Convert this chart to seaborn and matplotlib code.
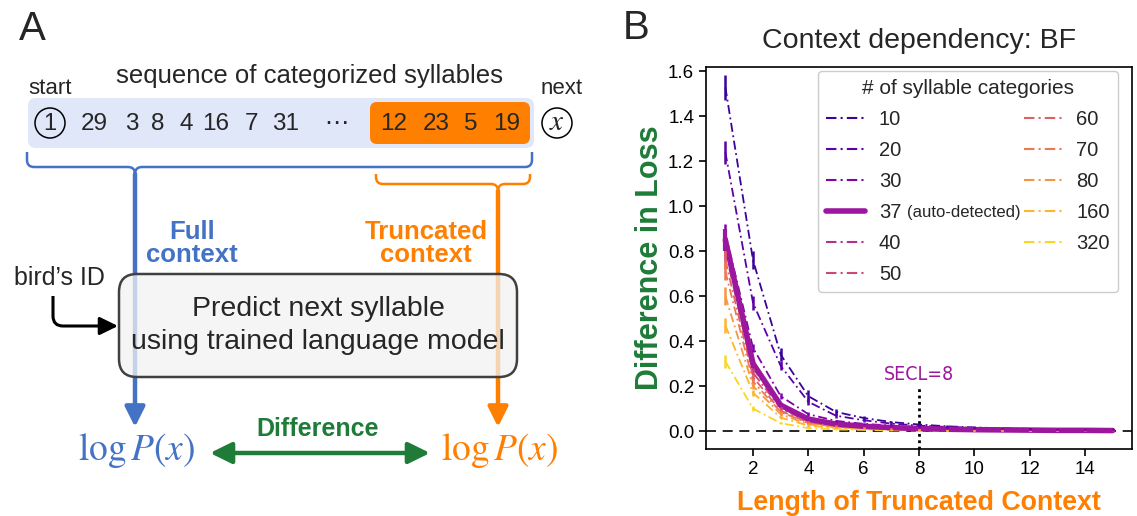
import matplotlib
matplotlib.use("Agg")
import pandas as pd
import matplotlib.pyplot as plt
import seaborn as sns
from matplotlib.patches import FancyBboxPatch, Circle, PathPatch, FancyArrowPatch
from matplotlib.path import Path
from matplotlib.lines import Line2D

sns.set_style("ticks")
plt.rcParams["font.family"] = ["Liberation Sans", "DejaVu Sans"]
plt.rcParams["mathtext.fontset"] = "stix"

# ---- panel B data: difference in loss vs length of truncated context ----
lengths = list(range(1, 16))
n_categories = ["10", "20", "30", "37", "40", "50", "60", "70", "80", "160", "320"]

loss_10 = [1.53, 0.76, 0.34, 0.155, 0.085, 0.058, 0.040, 0.029, 0.021, 0.016, 0.012, 0.010, 0.008, 0.006, 0.005]
loss_20 = [1.24, 0.57, 0.29, 0.130, 0.068, 0.048, 0.033, 0.024, 0.018, 0.014, 0.011, 0.009, 0.007, 0.006, 0.005]
loss_30 = [0.88, 0.37, 0.155, 0.075, 0.045, 0.032, 0.024, 0.018, 0.014, 0.011, 0.009, 0.007, 0.006, 0.005, 0.004]
loss_37 = [0.85, 0.30, 0.115, 0.053, 0.031, 0.021, 0.015, 0.011, 0.008, 0.006, 0.005, 0.004, 0.003, 0.003, 0.002]
loss_40 = [0.83, 0.28, 0.105, 0.045, 0.026, 0.018, 0.013, 0.009, 0.007, 0.005, 0.004, 0.003, 0.003, 0.002, 0.002]
loss_50 = [0.80, 0.26, 0.100, 0.042, 0.024, 0.016, 0.012, 0.008, 0.006, 0.005, 0.004, 0.003, 0.002, 0.002, 0.002]
loss_60 = [0.76, 0.24, 0.090, 0.038, 0.021, 0.014, 0.010, 0.007, 0.005, 0.004, 0.003, 0.003, 0.002, 0.002, 0.001]
loss_70 = [0.71, 0.22, 0.085, 0.035, 0.019, 0.013, 0.009, 0.006, 0.005, 0.004, 0.003, 0.002, 0.002, 0.001, 0.001]
loss_80 = [0.60, 0.20, 0.075, 0.030, 0.017, 0.011, 0.008, 0.006, 0.004, 0.003, 0.003, 0.002, 0.002, 0.001, 0.001]
loss_160 = [0.47, 0.17, 0.060, 0.024, 0.013, 0.009, 0.006, 0.004, 0.003, 0.003, 0.002, 0.002, 0.001, 0.001, 0.001]
loss_320 = [0.31, 0.10, 0.035, 0.013, 0.007, 0.005, 0.003, 0.002, 0.002, 0.001, 0.001, 0.001, 0.001, 0.000, 0.000]

err_10 = [0.055, 0.040, 0.030, 0.028, 0.012, 0.008, 0.006, 0.005, 0.004, 0.004, 0.003, 0.003, 0.003, 0.003, 0.003]
err_20 = [0.050, 0.030, 0.020, 0.015, 0.010, 0.007, 0.005, 0.004, 0.004, 0.003, 0.003, 0.003, 0.002, 0.002, 0.002]
err_30 = [0.040, 0.018, 0.012, 0.008, 0.006, 0.005, 0.004, 0.003, 0.003, 0.003, 0.002, 0.002, 0.002, 0.002, 0.002]
err_37 = [0.050, 0.018, 0.010, 0.007, 0.005, 0.004, 0.003, 0.003, 0.002, 0.002, 0.002, 0.002, 0.002, 0.002, 0.002]
err_40 = [0.040, 0.015, 0.008, 0.006, 0.004, 0.003, 0.003, 0.002, 0.002, 0.002, 0.002, 0.002, 0.001, 0.001, 0.001]
err_50 = [0.040, 0.015, 0.008, 0.006, 0.004, 0.003, 0.003, 0.002, 0.002, 0.002, 0.002, 0.002, 0.001, 0.001, 0.001]
err_60 = [0.040, 0.015, 0.008, 0.005, 0.004, 0.003, 0.002, 0.002, 0.002, 0.002, 0.001, 0.001, 0.001, 0.001, 0.001]
err_70 = [0.040, 0.015, 0.008, 0.005, 0.004, 0.003, 0.002, 0.002, 0.002, 0.002, 0.001, 0.001, 0.001, 0.001, 0.001]
err_80 = [0.040, 0.015, 0.008, 0.005, 0.003, 0.003, 0.002, 0.002, 0.002, 0.001, 0.001, 0.001, 0.001, 0.001, 0.001]
err_160 = [0.035, 0.012, 0.006, 0.004, 0.003, 0.002, 0.002, 0.002, 0.001, 0.001, 0.001, 0.001, 0.001, 0.001, 0.001]
err_320 = [0.030, 0.010, 0.005, 0.003, 0.002, 0.002, 0.001, 0.001, 0.001, 0.001, 0.001, 0.001, 0.001, 0.001, 0.001]

means = [loss_10, loss_20, loss_30, loss_37, loss_40, loss_50, loss_60, loss_70, loss_80, loss_160, loss_320]
errs = [err_10, err_20, err_30, err_37, err_40, err_50, err_60, err_70, err_80, err_160, err_320]
auto_detected = "37"
secl = 8

# long table for seaborn
rows = []
for n, m, e in zip(n_categories, means, errs):
    for x, y, s in zip(lengths, m, e):
        rows.append({"length": x, "loss": y, "err": s, "n": n})
df = pd.DataFrame(rows)

colors = sns.color_palette("plasma", len(n_categories))
palette = dict(zip(n_categories, colors))
dash_dc = (5, 2, 1, 2)
dashes = {n: ("" if n == auto_detected else dash_dc) for n in n_categories}
sizes = {n: (4.0 if n == auto_detected else 1.3) for n in n_categories}
draw_order = [n for n in n_categories if n != auto_detected] + [auto_detected]

W, H = 1137, 516
fig = plt.figure(figsize=(W / 100, H / 100), dpi=100)

# ================= panel A (schematic, pixel coordinates) =================
ax_a = fig.add_axes([0, 0, 600 / W, 1])
ax_a.set_xlim(0, 600)
ax_a.set_ylim(H, 0)
ax_a.axis("off")

blue = "#4472c4"
orange = "#ff7f00"
green = "#1e7b38"

ax_a.add_patch(FancyBboxPatch((28, 98), 506, 50, boxstyle="round,pad=0,rounding_size=8",
                              fc="#e0e7f8", ec="none", zorder=1))
ax_a.add_patch(FancyBboxPatch((370, 102), 160, 42, boxstyle="round,pad=0,rounding_size=7",
                              fc=orange, ec="none", zorder=2))
ax_a.add_patch(Circle((50, 123), 15, fc="none", ec="black", lw=1.1, zorder=3))
ax_a.text(50, 124, "1", fontsize=17, ha="center", va="center", zorder=4)
ax_a.add_patch(Circle((557, 123), 15, fc="none", ec="black", lw=1.1, zorder=3))
ax_a.text(557, 122, r"$x$", fontsize=21, ha="center", va="center", zorder=4)

seq_tokens = ["29", "3", "8", "4", "16", "7", "31", "\u22ef", "12", "23", "5", "19"]
seq_x = [94, 132, 158, 186, 216, 252, 286, 336, 394, 436, 471, 507]
for tok, x in zip(seq_tokens, seq_x):
    ax_a.text(x, 124, tok, fontsize=17.5, ha="center", va="center", zorder=4)

ax_a.text(50, 88, "start", fontsize=16, ha="center", va="center")
ax_a.text(562, 88, "next", fontsize=16, ha="center", va="center")
ax_a.text(309, 76, "sequence of categorized syllables", fontsize=18.5, ha="center", va="center")


def brace(x0, x1, xt, y0, ym, r, color):
    C = Path.CURVE3
    verts = [(x0, y0), (x0, ym - r), (x0, ym), (x0 + r, ym), (xt - r, ym), (xt, ym), (xt, ym + r),
             (x1, y0), (x1, ym - r), (x1, ym), (x1 - r, ym), (xt + r, ym), (xt, ym), (xt, ym + r)]
    codes = [Path.MOVETO, Path.LINETO, C, C, Path.LINETO, C, C,
             Path.MOVETO, Path.LINETO, C, C, Path.LINETO, C, C]
    ax_a.add_patch(PathPatch(Path(verts, codes), fc="none", ec=color, lw=1.8, zorder=2))


brace(27, 532, 135, 152, 167, 7, blue)
brace(376, 530, 498, 174, 184, 7, orange)

arrow_kw = dict(arrowstyle="-|>,head_length=0.6,head_width=0.3", mutation_scale=20,
                shrinkA=0, shrinkB=0, zorder=2)
ax_a.add_patch(FancyArrowPatch((135, 174), (135, 427), lw=3.2, color=blue, **arrow_kw))
ax_a.add_patch(FancyArrowPatch((498, 191), (498, 427), lw=3.2, color=orange, **arrow_kw))

ax_a.text(192, 232, "Full", fontsize=18.5, fontweight="bold", color=blue, ha="center", va="center")
ax_a.text(192, 255, "context", fontsize=18.5, fontweight="bold", color=blue, ha="center", va="center")
ax_a.text(426, 232, "Truncated", fontsize=18.5, fontweight="bold", color=orange, ha="center", va="center")
ax_a.text(426, 255, "context", fontsize=18.5, fontweight="bold", color=orange, ha="center", va="center")

ax_a.add_patch(FancyBboxPatch((119, 274), 398, 103, boxstyle="round,pad=0,rounding_size=18",
                              fc=(0.95, 0.95, 0.95, 0.75), ec="#404040", lw=1.8, zorder=3))
ax_a.text(318, 309, "Predict next syllable", fontsize=20.5, ha="center", va="center", zorder=4)
ax_a.text(318, 342, "using trained language model", fontsize=20.5, ha="center", va="center", zorder=4)

ax_a.text(59, 278, "bird\u2019s ID", fontsize=18, ha="center", va="center")
bent = Path([(53, 296), (53, 316), (53, 326), (63, 326), (104, 326)],
            [Path.MOVETO, Path.LINETO, Path.CURVE3, Path.CURVE3, Path.LINETO])
ax_a.add_patch(PathPatch(bent, fc="none", ec="black", lw=2.2, capstyle="butt"))
ax_a.add_patch(FancyArrowPatch((100, 326), (118, 326), arrowstyle="-|>,head_length=0.55,head_width=0.27",
                               mutation_scale=20, lw=2.2, color="black", shrinkA=0, shrinkB=0))

ax_a.text(137, 451, r"$\log P(x)$", fontsize=27, color=blue, ha="center", va="center")
ax_a.text(500, 451, r"$\log P(x)$", fontsize=27, color=orange, ha="center", va="center")
ax_a.add_patch(FancyArrowPatch((210, 453), (430, 453), arrowstyle="<|-|>,head_length=0.65,head_width=0.32",
                               mutation_scale=20, lw=3.2, color=green, shrinkA=0, shrinkB=0))
ax_a.text(318, 429, "Difference", fontsize=18, fontweight="bold", color=green, ha="center", va="center")

fig.text(32 / W, 1 - 29 / H, "A", fontsize=29, ha="center", va="center")
fig.text(636 / W, 1 - 28 / H, "B", fontsize=29, ha="center", va="center")

# ================= panel B =================
ax_b = fig.add_axes([706 / W, 67 / H, 426 / W, 382 / H])

sns.lineplot(data=df, x="length", y="loss", hue="n", hue_order=draw_order, palette=palette,
             size="n", sizes=sizes, style="n", dashes=dashes, legend=False, ax=ax_b)

for n, m, e in zip(n_categories, means, errs):
    big = n == auto_detected
    ax_b.errorbar(lengths, m, yerr=e, fmt="none", ecolor=palette[n], elinewidth=3 if big else 1.8,
                  capsize=0, zorder=3 if big else 2)

ax_b.axhline(0, color="black", lw=1.2, ls=(0, (6, 4)), zorder=1)
ax_b.plot([secl, secl], [-0.08, 0.19], color="black", lw=2, ls=(0, (1, 1.3)), zorder=1)
ax_b.text(secl, 0.25, f"SECL={secl}", color=palette[auto_detected], fontsize=14,
          family="DejaVu Sans", fontstretch="condensed", ha="center", va="center")

ax_b.set_ylim(-0.08, 1.62)
ax_b.set_xticks([2, 4, 6, 8, 10, 12, 14])
ax_b.set_yticks([0.0, 0.2, 0.4, 0.6, 0.8, 1.0, 1.2, 1.4, 1.6])
ax_b.set_yticklabels([f"{v:.1f}" for v in ax_b.get_yticks()])
ax_b.tick_params(direction="out", length=5, width=1.2, labelsize=13.5, colors="black")
for sp in ax_b.spines.values():
    sp.set_color("black")
    sp.set_linewidth(1.2)

ax_b.set_title("Context dependency: BF", fontsize=20.5, pad=14)
ax_b.set_xlabel("Length of Truncated Context", fontsize=19.3, fontweight="bold", color=orange, labelpad=9)
ax_b.set_ylabel("Difference in Loss", fontsize=22, fontweight="bold", color=green, labelpad=2)

handles = []
for n in n_categories:
    if n == auto_detected:
        handles.append(Line2D([], [], color=palette[n], lw=4.0))
    else:
        handles.append(Line2D([], [], color=palette[n], lw=1.5, dashes=dash_dc))
leg = ax_b.legend(handles, n_categories, ncol=2, title="# of syllable categories", fontsize=14.5,
                  title_fontsize=15, loc="upper right", bbox_to_anchor=(0.967, 0.99),
                  borderaxespad=0, frameon=True, fancybox=True, framealpha=1, edgecolor="#cccccc",
                  handlelength=1.9, labelspacing=0.6, columnspacing=6.1, handletextpad=0.7)
leg.get_frame().set_linewidth(1.0)
for t in leg.get_texts():
    if t.get_text() == auto_detected:
        ax_b.annotate("(auto-detected)", xy=(1, 0.5), xycoords=t, xytext=(4, 0),
                      textcoords="offset points", fontsize=12, va="center", ha="left", zorder=10)

fig.savefig("out.png", dpi=100)
